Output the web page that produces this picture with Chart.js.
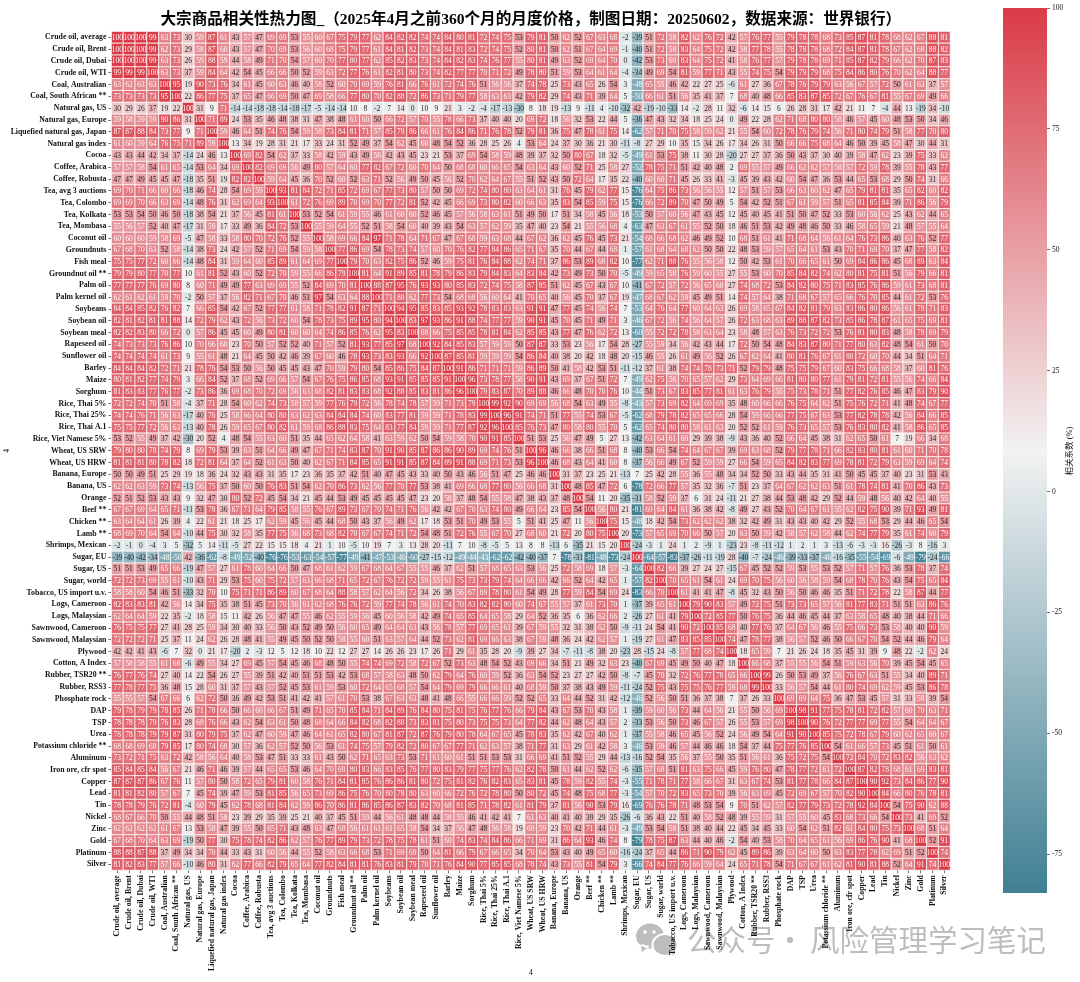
<!DOCTYPE html>
<html>
<head>
<meta charset="utf-8">
<title>大宗商品相关性热力图</title>
<script src="https://cdn.jsdelivr.net/npm/chart.js@4/dist/chart.umd.js"></script>
<style>
  html, body { margin: 0; padding: 0; background: #fff; }
  #main { position: absolute; left: 0; top: 0; }
  #cbar { position: absolute; left: 1003px; top: 0; }
</style>
</head>
<body>
<canvas id="main" width="1080" height="982"></canvas>
<canvas id="cbar" width="77" height="900"></canvas>
<script>
const titleText = "大宗商品相关性热力图_（2025年4月之前360个月的月度价格，制图日期：20250602，数据来源：世界银行）";
const cbarLabel = "相关系数 (%)";
const markParts = ["公众号", "·", "风险管理学习笔记"];
const axisName = "4";

const categories = [
  "Crude oil, average", "Crude oil, Brent", "Crude oil, Dubai", "Crude oil, WTI", "Coal, Australian",
  "Coal, South African **", "Natural gas, US", "Natural gas, Europe", "Liquefied natural gas, Japan",
  "Natural gas index", "Cocoa", "Coffee, Arabica", "Coffee, Robusta", "Tea, avg 3 auctions", "Tea, Colombo",
  "Tea, Kolkata", "Tea, Mombasa", "Coconut oil", "Groundnuts", "Fish meal", "Groundnut oil **", "Palm oil",
  "Palm kernel oil", "Soybeans", "Soybean oil", "Soybean meal", "Rapeseed oil", "Sunflower oil", "Barley",
  "Maize", "Sorghum", "Rice, Thai 5%", "Rice, Thai 25%", "Rice, Thai A.1", "Rice, Viet Namese 5%",
  "Wheat, US SRW", "Wheat, US HRW", "Banana, Europe", "Banana, US", "Orange", "Beef **", "Chicken **",
  "Lamb **", "Shrimps, Mexican", "Sugar, EU", "Sugar, US", "Sugar, world", "Tobacco, US import u.v.",
  "Logs, Cameroon", "Logs, Malaysian", "Sawnwood, Cameroon", "Sawnwood, Malaysian", "Plywood",
  "Cotton, A Index", "Rubber, TSR20 **", "Rubber, RSS3", "Phosphate rock", "DAP", "TSP", "Urea",
  "Potassium chloride **", "Aluminum", "Iron ore, cfr spot", "Copper", "Lead", "Tin", "Nickel", "Zinc",
  "Gold", "Platinum", "Silver"
];

//lower triangle of the matrix, the picture is symmetric
const corrRows = [
  [100],
  [100,100],
  [100,100,100],
  [99,99,99,100],
  [63,62,63,63,100],
  [73,73,73,73,95,100],
  [30,29,26,37,19,22,100],
  [59,58,59,59,90,86,31,100],
  [87,87,88,84,73,77,9,71,100],
  [61,60,59,64,76,75,71,89,59,100],
  [43,43,44,42,34,37,-14,24,46,13,100],
  [57,57,58,54,61,65,-14,53,64,34,69,100],
  [47,47,49,45,45,47,-18,35,51,19,82,82,100],
  [69,70,71,66,60,66,-18,46,74,28,54,69,59,100],
  [69,69,70,66,63,69,-14,48,76,31,62,69,64,93,100],
  [53,53,54,50,46,50,-18,38,54,21,37,56,45,81,61,100],
  [55,56,57,52,40,47,-17,31,59,17,33,49,36,84,72,53,100],
  [60,60,60,59,58,69,-5,47,58,33,58,80,70,72,76,52,55,100],
  [67,68,70,63,52,58,-14,38,73,24,42,57,52,71,69,54,59,58,100],
  [75,75,77,72,60,66,-14,48,84,31,59,64,60,85,89,61,64,69,77,100],
  [79,79,80,77,70,77,10,61,81,52,43,60,52,72,70,59,55,66,86,79,100],
  [77,77,77,76,69,80,8,60,71,49,49,77,63,69,69,55,52,84,69,70,81,100],
  [62,61,62,61,59,70,-2,50,57,37,56,82,71,67,70,46,51,97,54,63,64,88,100],
  [84,84,85,82,76,82,7,66,85,54,42,67,52,77,77,61,58,71,78,82,91,87,71,100],
  [82,81,82,81,81,88,14,72,79,62,43,72,56,73,72,60,54,78,73,75,89,95,80,94,100],
  [82,82,83,80,66,72,0,57,86,45,45,60,49,80,81,60,60,64,74,86,85,76,62,95,83,100],
  [74,73,73,73,76,86,10,70,66,60,23,70,50,57,52,52,40,71,57,52,81,93,77,85,97,68,100],
  [74,74,74,74,61,73,9,55,61,48,21,64,45,50,42,46,39,67,60,46,78,93,73,83,93,66,92,100],
  [84,84,84,82,72,71,21,78,76,54,53,50,56,50,45,45,43,47,70,59,79,80,54,85,86,75,84,87,100],
  [80,81,82,77,74,79,3,66,84,52,37,68,52,69,66,57,54,67,76,75,86,85,68,93,91,85,85,85,91,100],
  [81,83,83,77,76,77,-2,73,86,36,69,68,70,72,69,56,63,68,82,81,83,83,68,92,88,85,83,81,86,96,100],
  [72,72,74,70,51,58,-4,37,71,28,54,60,62,74,73,58,57,59,77,76,79,72,56,78,74,78,57,59,71,73,79,100],
  [74,74,76,71,56,63,-17,40,76,25,58,66,64,80,80,63,62,63,84,84,84,74,60,83,77,81,59,59,71,78,83,99,100],
  [75,75,77,72,56,63,-13,40,78,26,59,65,67,80,82,61,59,68,86,88,83,75,64,83,77,84,59,59,71,77,87,92,96,100],
  [53,52,55,49,37,42,-30,20,52,4,48,54,55,63,60,51,35,44,65,62,64,58,41,63,59,62,50,54,59,58,70,90,91,85,100],
  [79,80,80,78,74,79,8,69,79,53,39,63,51,64,66,49,47,67,71,74,83,87,70,91,90,85,87,86,86,90,89,69,74,76,51,100],
  [81,81,81,80,78,82,18,72,81,64,37,64,52,61,63,50,40,62,67,71,84,85,65,91,91,85,87,84,89,91,88,69,71,73,53,96,100],
  [50,50,49,51,25,29,19,18,36,24,32,43,43,31,35,17,23,36,35,37,42,51,40,47,45,43,33,40,50,43,46,56,51,47,25,46,46,100],
  [62,62,63,59,73,74,-13,56,75,37,50,60,50,76,83,51,54,62,70,86,73,62,56,77,70,77,53,38,41,69,66,68,77,80,56,66,68,31,100],
  [52,51,52,53,43,43,9,32,47,30,80,52,72,45,54,34,21,45,44,53,49,45,45,45,45,47,23,20,58,37,48,54,55,58,47,38,43,37,48,100],
  [67,67,69,64,65,71,-11,53,78,36,67,71,64,79,85,58,55,76,67,89,73,67,70,74,71,76,56,42,42,67,70,63,74,80,49,66,64,23,85,54,100],
  [63,64,64,61,26,39,4,22,61,21,18,25,17,62,59,45,56,45,44,68,50,43,37,56,49,62,17,18,53,51,70,49,53,55,5,51,41,25,47,11,56,100],
  [68,69,70,64,54,64,-10,44,75,30,32,58,35,77,75,56,68,73,68,82,70,67,67,74,71,72,54,48,51,72,76,55,67,70,27,68,60,21,72,20,80,75,100],
  [-2,-1,0,-4,3,5,-32,5,14,-11,-5,27,22,15,15,18,4,21,1,10,-5,10,19,7,3,13,28,20,-11,7,10,-8,-5,5,13,8,8,-13,6,-35,21,15,20,100],
  [-39,-40,-42,-34,-48,-50,42,-36,-62,-8,-49,-52,-40,-76,-76,-53,-63,-54,-57,-77,-49,-41,-47,-53,-46,-60,-27,-15,-12,-49,-44,-43,-62,-62,-42,-40,-37,7,-78,-31,-81,-48,-73,-24,100],
  [51,51,53,49,65,66,-19,47,57,27,61,78,60,64,66,50,47,68,61,62,59,67,68,64,67,55,55,46,37,62,51,57,68,65,63,53,56,25,72,58,69,18,57,-3,-64,100],
  [72,72,73,69,55,61,-10,43,71,29,53,75,60,75,72,57,63,66,68,71,65,72,67,76,72,72,59,55,61,75,73,73,79,74,64,66,66,42,66,52,64,42,65,1,-57,82,100],
  [58,58,60,54,46,51,-33,32,70,10,75,71,71,86,89,60,67,68,64,88,58,57,62,64,56,72,34,26,38,56,67,69,78,80,61,54,49,28,77,59,84,54,69,24,-83,66,70,100],
  [82,83,83,81,42,56,14,34,75,35,38,51,45,73,70,56,61,62,68,76,76,72,59,77,74,78,56,61,74,70,83,82,82,80,60,74,67,55,57,37,61,73,70,1,-37,39,65,61,100],
  [62,64,64,59,22,35,-2,18,58,15,11,42,26,56,47,47,55,46,62,55,59,56,45,60,56,58,42,49,74,65,85,64,65,58,29,64,52,36,35,6,36,62,66,2,-26,27,61,41,79,100],
  [76,75,75,77,27,41,28,25,59,34,30,40,33,56,50,43,52,49,50,56,60,65,49,64,64,63,43,56,78,57,77,69,65,61,39,67,59,55,32,31,38,62,50,-9,-11,24,54,41,90,72,100],
  [72,72,72,71,25,37,11,24,62,26,28,48,41,55,49,45,50,52,50,58,55,60,51,63,57,64,44,52,73,62,81,69,66,63,38,67,59,48,36,24,42,62,57,1,-19,27,61,47,83,85,85,100],
  [42,42,41,43,-6,7,32,0,21,17,-20,2,-3,12,5,12,18,10,22,12,27,27,14,26,26,23,17,26,71,29,61,35,28,20,-9,39,27,34,-7,-11,-8,38,20,-23,28,-15,24,-8,57,77,68,74,100],
  [57,58,58,55,61,68,-6,49,55,34,27,69,45,57,54,45,46,68,48,50,55,74,74,69,72,58,72,67,52,73,63,48,54,52,43,69,66,34,51,21,49,32,63,23,-40,67,69,45,49,50,40,47,18,100],
  [76,77,76,74,27,40,14,22,54,26,27,55,39,51,42,40,51,51,53,42,53,68,57,58,63,48,50,62,79,64,76,60,59,52,36,63,54,52,23,27,27,42,50,-8,-7,45,70,32,72,76,77,78,65,66,100],
  [77,78,77,75,36,48,15,28,60,31,37,57,43,57,52,45,53,61,59,53,60,72,64,65,68,57,54,64,79,69,79,66,66,61,40,68,59,50,37,38,43,49,59,-11,-24,52,75,43,75,75,76,77,59,68,99,100],
  [55,55,57,54,67,66,6,62,72,50,36,49,42,53,51,41,42,41,57,61,70,53,38,67,63,63,48,41,48,66,55,66,66,59,52,52,65,33,64,44,52,31,42,-12,-46,52,56,50,51,36,37,38,7,37,26,33,100],
  [79,78,79,79,78,85,26,71,78,66,50,66,60,66,67,51,49,71,65,70,85,84,71,84,89,76,84,80,75,81,75,76,77,76,66,79,84,43,67,53,70,43,58,1,-39,59,60,56,73,44,64,56,21,55,50,56,69,100],
  [78,78,78,79,76,83,28,68,76,66,43,62,54,63,61,50,48,68,64,66,84,82,68,82,88,73,83,81,75,80,73,75,75,73,64,77,82,44,62,48,64,43,57,2,-33,53,56,50,73,46,67,57,26,55,53,57,69,98,100],
  [78,78,78,79,79,87,31,80,79,75,37,62,47,60,59,47,46,64,61,65,82,80,67,81,87,72,87,76,79,80,78,64,67,65,45,78,83,35,62,42,67,40,62,1,-37,55,58,46,65,45,56,52,24,56,49,54,64,91,90,100],
  [68,68,69,68,79,85,17,80,74,68,30,57,36,62,57,52,50,56,53,61,74,75,57,79,82,72,80,67,67,77,71,62,63,57,38,71,77,31,63,29,61,42,58,3,-46,53,59,46,57,44,46,46,18,54,37,44,75,77,76,85,100],
  [73,72,71,75,63,72,42,58,56,64,40,58,53,47,51,33,33,61,43,50,62,71,65,63,73,53,71,61,60,61,51,51,53,53,31,66,69,41,51,52,55,29,44,-13,-16,52,54,35,56,37,55,50,35,51,56,61,36,75,72,75,54,100],
  [85,84,85,84,56,67,21,46,71,46,39,57,44,65,65,53,46,64,70,69,80,83,66,83,85,76,77,80,83,79,77,75,77,76,62,82,78,50,61,44,62,52,62,-6,-35,57,68,51,81,63,75,66,45,59,76,80,47,78,77,72,61,72,100],
  [87,87,87,86,67,76,11,57,80,50,58,72,65,79,81,60,58,76,71,84,81,85,76,86,86,81,80,72,75,81,82,76,82,83,65,83,81,45,78,59,82,55,74,-3,-55,71,78,71,77,58,66,67,31,63,67,74,53,81,77,78,66,84,87,100],
  [81,81,82,80,57,67,7,45,74,39,47,59,53,81,85,56,65,73,69,86,75,76,70,80,78,80,63,60,66,72,76,72,78,80,50,80,72,45,74,48,75,68,77,-3,-54,57,70,72,83,65,73,70,39,56,63,69,45,72,69,67,57,70,82,90,100],
  [78,78,79,76,72,81,-4,60,79,45,62,78,68,81,84,62,59,86,70,86,81,86,85,86,87,83,82,70,68,81,85,71,78,82,61,81,79,37,81,56,90,53,79,16,-69,76,76,78,71,48,53,54,9,70,51,62,57,82,77,79,73,72,78,92,84,100],
  [68,67,66,70,50,55,44,48,51,58,23,39,29,35,39,25,21,40,37,45,51,59,44,56,61,48,48,44,58,55,46,41,42,41,7,61,63,40,41,40,39,29,35,-26,-6,36,43,22,51,40,58,52,48,39,55,59,31,57,55,60,45,83,68,73,66,54,100],
  [62,62,62,62,61,67,13,53,58,47,39,55,50,65,71,43,48,63,47,68,56,61,61,61,65,58,54,34,37,56,47,48,56,58,19,60,59,23,70,42,71,44,61,-3,-49,53,54,58,51,38,40,44,22,45,34,45,33,60,54,62,51,82,61,84,80,75,73,100],
  [67,68,70,64,63,69,-19,50,77,30,75,78,74,82,86,62,57,76,77,89,79,73,72,78,75,78,61,51,60,74,83,74,84,86,66,71,69,31,86,64,93,46,74,8,-79,78,75,87,63,44,40,46,-2,54,40,53,58,70,64,65,61,56,69,86,76,90,41,68,100],
  [88,88,87,88,37,49,34,34,70,44,33,43,31,60,56,44,55,52,58,63,66,68,53,71,69,69,50,64,81,66,79,67,66,65,34,70,64,53,43,40,49,65,60,-16,-24,37,65,44,86,71,90,79,62,45,89,86,39,63,64,60,50,63,83,77,78,62,69,51,52,100],
  [81,82,83,77,57,66,-10,46,80,31,62,77,66,82,79,65,64,77,82,84,81,81,76,83,81,79,70,71,76,84,90,77,85,85,68,78,74,43,73,55,81,54,79,3,-66,74,84,77,76,66,59,64,24,65,71,78,54,71,67,67,61,62,81,90,81,88,52,64,91,74,100]
];

const cbarTicks = [-75, -50, -25, 0, 25, 50, 75, 100];
const cbarMin = -83;
const cbarMax = 100;

const colorLow = [63, 127, 147];
const colorMid = [242, 242, 242];
const colorHigh = [218, 59, 70];
const SERIF = '"Liberation Serif", "Noto Sans CJK SC"';
const CELL = 11.81;

function cellRGB(v) {
  let mid = (cbarMin + cbarMax) / 2;
  let from = v < mid ? colorLow : colorMid;
  let to = v < mid ? colorMid : colorHigh;
  let t = v < mid ? (v - cbarMin) / (mid - cbarMin) : (v - mid) / (cbarMax - mid);
  return from.map((c, i) => Math.round(c + (to[i] - c) * t));
}

function cellColor(v) {
  let c = cellRGB(v);
  return `rgb(${c[0]},${c[1]},${c[2]})`;
}

//same rule seaborn uses to pick the annotation colour
function textColor(v) {
  let lin = cellRGB(v).map((c) => {
    let s = c / 255;
    return s <= 0.03928 ? s / 12.92 : Math.pow((s + 0.055) / 1.055, 2.4);
  });
  let lum = 0.2126 * lin[0] + 0.7152 * lin[1] + 0.0722 * lin[2];
  return lum > 0.408 ? "#262626" : "#ffffff";
}

function getValue(i, j) {
  return i >= j ? corrRows[i][j] : corrRows[j][i];
}

let points = [];
categories.forEach((rowName, i) => {
  categories.forEach((colName, j) => {
    points.push({ x: colName, y: rowName, v: getValue(i, j) });
  });
});

//ANNOTATIONS AND TITLE
const cellLabels = {
  id: "cellLabels",
  afterDatasetsDraw(chart) {
    let ctx = chart.ctx;
    let xs = chart.scales.x;
    let ys = chart.scales.y;
    ctx.save();
    ctx.font = `7.5px ${SERIF}`;
    ctx.textAlign = "center";
    ctx.textBaseline = "middle";
    points.forEach((p) => {
      ctx.fillStyle = textColor(p.v);
      ctx.fillText(String(p.v), xs.getPixelForValue(categories.indexOf(p.x)), ys.getPixelForValue(categories.indexOf(p.y)) + 0.5);
    });
    ctx.font = `bold 15.6px ${SERIF}`;
    ctx.fillStyle = "#000";
    ctx.fillText(titleText, (chart.chartArea.left + chart.chartArea.right) / 2, 20);
    ctx.restore();
  },
};

//WATERMARK, under the tick labels
const watermark = {
  id: "watermark",
  beforeDraw(chart) {
    let ctx = chart.ctx;
    ctx.save();
    ctx.fillStyle = "#bdbdbd";
    ctx.beginPath();
    ctx.ellipse(650, 936, 14, 12.5, 0, 0, Math.PI * 2);
    ctx.moveTo(641, 944);
    ctx.lineTo(642, 952);
    ctx.lineTo(650, 946);
    ctx.fill();
    ctx.fillStyle = "#ffffff";
    ctx.beginPath();
    ctx.arc(645, 932, 1.8, 0, Math.PI * 2);
    ctx.arc(654, 932, 1.8, 0, Math.PI * 2);
    ctx.fill();
    ctx.beginPath();
    ctx.ellipse(665, 945, 13.5, 12, 0, 0, Math.PI * 2);
    ctx.fill();
    ctx.fillStyle = "#bdbdbd";
    ctx.beginPath();
    ctx.ellipse(665, 945, 11.5, 10, 0, 0, Math.PI * 2);
    ctx.moveTo(670, 952);
    ctx.lineTo(674, 956);
    ctx.lineTo(673, 950);
    ctx.fill();
    ctx.font = '29.5px "Noto Sans CJK SC"';
    ctx.textBaseline = "alphabetic";
    ctx.textAlign = "left";
    ctx.fillText(markParts[0], 687, 951);
    ctx.fillText(markParts[2], 810, 951);
    ctx.textAlign = "center";
    ctx.fillText(markParts[1], 790, 951);
    ctx.restore();
  },
};

new Chart(document.getElementById("main"), {
  type: "scatter",
  data: {
    datasets: [
      {
        data: points,
        pointStyle: "rect",
        pointRadius: CELL / Math.SQRT2,
        pointHoverRadius: CELL / Math.SQRT2,
        pointBorderWidth: 0.7,
        pointBorderColor: "#ffffff",
        pointBackgroundColor: (c) => cellColor(c.raw.v),
        clip: false,
      },
    ],
  },
  options: {
    responsive: false,
    animation: false,
    layout: { padding: { right: 129.8, top: 31.4, left: 0, bottom: 2.8 } },
    plugins: {
      legend: { display: false },
      tooltip: { enabled: false },
    },
    scales: {
      x: {
        type: "category",
        labels: categories,
        offset: true,
        border: { display: false },
        grid: { drawOnChartArea: false, tickLength: 3, tickColor: "#333", tickWidth: 0.7 },
        ticks: {
          autoSkip: false,
          minRotation: 90,
          maxRotation: 90,
          padding: 2,
          color: "#111",
          font: { family: SERIF, size: 7.8, weight: "bold" },
        },
        title: { display: true, text: axisName, color: "#000", padding: { top: 0, bottom: 2 }, font: { family: SERIF, size: 7.5 } },
        afterFit(scale) {
          scale.height = 109;
        },
      },
      y: {
        type: "category",
        labels: categories,
        offset: true,
        border: { display: false },
        grid: { drawOnChartArea: false, tickLength: 3, tickColor: "#333", tickWidth: 0.7 },
        ticks: {
          autoSkip: false,
          padding: 2,
          color: "#111",
          font: { family: SERIF, size: 7.8, weight: "bold" },
        },
        title: { display: true, text: axisName, color: "#000", padding: { top: 3, bottom: 0 }, font: { family: SERIF, size: 7.5 } },
        afterFit(scale) {
          scale.width = 111.4;
        },
      },
    },
  },
  plugins: [cellLabels, watermark],
});

//COLORBAR
const cbarTitle = {
  id: "cbarTitle",
  afterDraw(chart) {
    let ctx = chart.ctx;
    ctx.save();
    ctx.translate(67, 451);
    ctx.rotate(-Math.PI / 2);
    ctx.font = `8.5px ${SERIF}`;
    ctx.fillStyle = "#111";
    ctx.textAlign = "center";
    ctx.textBaseline = "middle";
    ctx.fillText(cbarLabel, 0, 0);
    ctx.restore();
  },
};

new Chart(document.getElementById("cbar"), {
  type: "bar",
  data: {
    labels: [""],
    datasets: [
      {
        data: [[cbarMin, cbarMax]],
        barPercentage: 1,
        categoryPercentage: 1,
        borderSkipped: false,
        backgroundColor: (c) => {
          let area = c.chart.chartArea;
          if (!area) return "#fff";
          let gr = c.chart.ctx.createLinearGradient(0, area.top, 0, area.bottom);
          gr.addColorStop(0, cellColor(cbarMax));
          gr.addColorStop(0.5, cellColor((cbarMin + cbarMax) / 2));
          gr.addColorStop(1, cellColor(cbarMin));
          return gr;
        },
      },
    ],
  },
  options: {
    responsive: false,
    animation: false,
    layout: { padding: { top: 8, bottom: 7 } },
    plugins: { legend: { display: false }, tooltip: { enabled: false } },
    scales: {
      x: { display: false },
      y: {
        position: "right",
        min: cbarMin,
        max: cbarMax,
        border: { display: false },
        grid: { drawOnChartArea: false, tickLength: 3, tickColor: "#333", tickWidth: 0.7 },
        afterBuildTicks(scale) {
          scale.ticks = cbarTicks.map((t) => ({ value: t }));
        },
        ticks: {
          padding: 2,
          color: "#111",
          font: { family: SERIF, size: 7.5 },
        },
        afterFit(scale) {
          scale.width = 33;
        },
      },
    },
  },
  plugins: [cbarTitle],
});
</script>
</body>
</html>
